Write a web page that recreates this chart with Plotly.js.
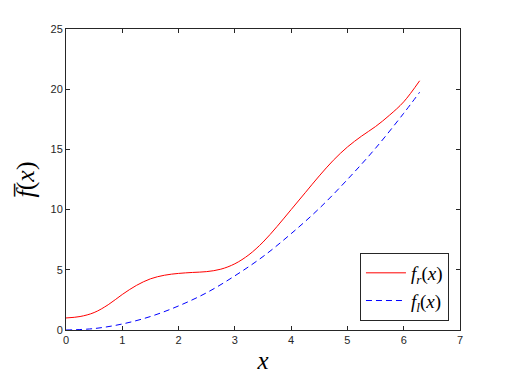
<!DOCTYPE html>
<html>
<head>
<meta charset="utf-8">
<script src="https://cdn.plot.ly/plotly-3.0.1.min.js"></script>
<style>
  html, body { margin: 0; padding: 0; background: #fff; }
  #graph { width: 508px; height: 381px; }
</style>
</head>
<body>
<div id="graph"></div>
<script>
// values
const xRight = [0, 0.25, 0.5, 0.75, 1.0, 1.25, 1.5, 1.75, 2.0, 2.25, 2.5, 2.75, 3.0, 3.25,
                3.5, 3.75, 4.0, 4.25, 4.5, 4.75, 5.0, 5.25, 5.5, 5.75, 6.0, 6.283];
const fRight = [1.0, 1.12, 1.45, 2.1, 2.95, 3.7, 4.25, 4.55, 4.7, 4.78, 4.85, 5.05, 5.5, 6.25,
                7.3, 8.6, 10.0, 11.4, 12.8, 14.1, 15.2, 16.1, 16.9, 17.85, 18.95, 20.7];

const xLeft = [0, 0.5, 1.0, 1.5, 2.0, 2.5, 3.0, 3.5, 4.0, 4.5, 5.0, 5.5, 6.0, 6.283];
const fLeft = [0, 0.12, 0.5, 1.12, 2.0, 3.1, 4.5, 6.1, 8.0, 10.1, 12.5, 15.1, 18.0, 19.75];

const xTicks = [0, 1, 2, 3, 4, 5, 6, 7];
const yTicks = [0, 5, 10, 15, 20, 25];

const serif = "'Liberation Serif', 'Times New Roman', serif";

let traceRight = {
    x: xRight,
    y: fRight,
    mode: "lines",
    type: "scatter",
    name: "<i>f<sub>r</sub></i>(<i>x</i>)",
    line: { color: "#ff0000", width: 1, shape: "spline" }
};

let traceLeft = {
    x: xLeft,
    y: fLeft,
    mode: "lines",
    type: "scatter",
    name: "<i>f<sub>l</sub></i>(<i>x</i>)",
    line: { color: "#0000ff", width: 1, dash: "6px,4px", shape: "spline" }
};

const axisStyle = {
    showgrid: false,
    zeroline: false,
    showline: true,
    mirror: "ticks",
    linecolor: "#262626",
    linewidth: 1,
    ticks: "inside",
    ticklen: 4,
    tickcolor: "#262626",
    tickfont: { family: "Liberation Sans", size: 11, color: "#262626" }
};

let layout = {
    width: 508,
    height: 381,
    margin: { l: 66, r: 48, t: 29, b: 51 },
    font: { family: serif },
    paper_bgcolor: "#ffffff",
    plot_bgcolor: "#ffffff",
    showlegend: true,
    legend: {
        x: 0.972, y: 0.03,
        xanchor: "right", yanchor: "bottom",
        bgcolor: "#ffffff",
        bordercolor: "#262626",
        borderwidth: 1,
        itemwidth: 40,
        font: { family: serif, size: 19, color: "#000" },
        tracegroupgap: 0
    },
    xaxis: Object.assign({}, axisStyle, {
        range: [0, 7],
        tickvals: xTicks,
        title: { text: "<i>x</i>", font: { family: serif, size: 25, color: "#000" }, standoff: 6 }
    }),
    yaxis: Object.assign({}, axisStyle, {
        range: [0, 25],
        tickvals: yTicks,
        title: { text: "<i>f\u0305</i>(<i>x</i>)", font: { family: serif, size: 26, color: "#000" }, standoff: 8 }
    })
};

Plotly.newPlot("graph", [traceRight, traceLeft], layout, { displayModeBar: false, staticPlot: true });
</script>
</body>
</html>
